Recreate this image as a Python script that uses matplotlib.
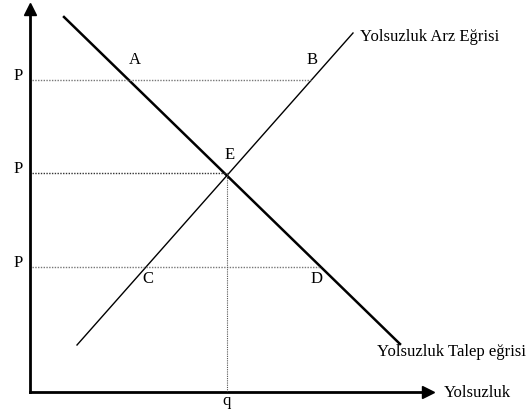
import matplotlib
matplotlib.use("Agg")
import matplotlib.pyplot as plt

# egriler (miktar, fiyat)
talep_x = [34, 370]
talep_y = [375, 48]
arz_x = [47, 323]
arz_y = [47, 359]

# fiyat seviyeleri ve kesisim noktalari
fiyat = [312, 219, 125]
fiyat_son = [281, 197, 291]   # kesikli cizgilerin bittigi yer
q_denge = 197

nokta_adi = ["A", "B", "E", "C", "D"]
nokta_x = [105, 282, 200, 118, 287]
nokta_y = [332, 332, 237, 113, 113]

plt.rcParams['font.family'] = ['Liberation Serif', 'DejaVu Serif']

fig = plt.figure(figsize=(5.28, 4.12), dpi=100)
ax = fig.add_axes([30/528, 20/412, 403/528, 389/412])
ax.set_xlim(0, 403)
ax.set_ylim(0, 389)
ax.axis("off")

# eksenler
ax.plot([0, 395], [0, 0], color="black", lw=2, clip_on=False)
ax.plot([0, 0], [0, 380], color="black", lw=2, clip_on=False)
ax.plot([398], [0], marker=">", color="black", ms=8, clip_on=False)
ax.plot([0], [383], marker="^", color="black", ms=8, clip_on=False)

# talep ve arz
ax.plot(talep_x, talep_y, color="black", lw=1.8)
ax.plot(arz_x, arz_y, color="black", lw=1.0)

# kesikli cizgiler
renk = ["#777777", "#333333", "#777777"]
for i in range(3):
    ax.plot([2, fiyat_son[i]], [fiyat[i], fiyat[i]], color=renk[i], lw=1.0,
            linestyle=(0, (1, 1)))
    ax.text(-12, fiyat[i] + 4, "P", fontsize=12, ha="center", va="center")
ax.plot([q_denge, q_denge], [0, fiyat[1]], color="#555555", lw=0.8,
        linestyle=(0, (1, 1)))

for i in range(len(nokta_adi)):
    ax.text(nokta_x[i], nokta_y[i], nokta_adi[i], fontsize=12, ha="center", va="center")

ax.text(q_denge, -9, "q", fontsize=12, ha="center", va="center", clip_on=False)
ax.text(330, 355, "Yolsuzluk Arz Eğrisi", fontsize=12, ha="left", va="center", clip_on=False)
ax.text(347, 40, "Yolsuzluk Talep eğrisi", fontsize=12, ha="left", va="center", clip_on=False)
ax.text(414, -1, "Yolsuzluk", fontsize=12, ha="left", va="center", clip_on=False)

fig.savefig("out.png", dpi=100)
